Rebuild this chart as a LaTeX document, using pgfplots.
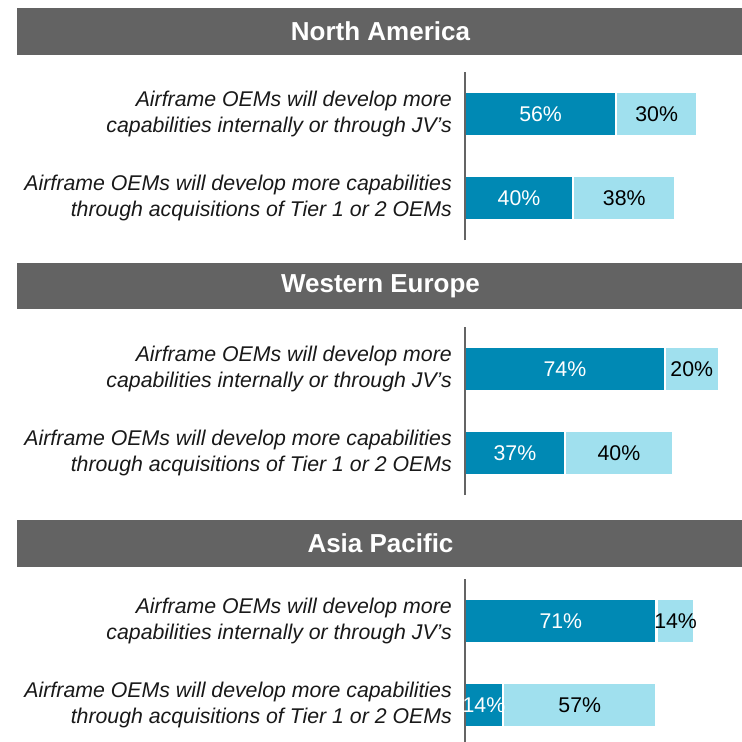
\documentclass[border=0pt]{standalone}
\usepackage{pgfplots}
\pgfplotsset{compat=1.18}
\usepackage{fontspec}
\setmainfont{Liberation Sans}
\definecolor{darkbar}{RGB}{0,137,180}
\definecolor{lightbar}{RGB}{160,224,238}
\definecolor{hdr}{RGB}{99,99,99}
\definecolor{axl}{RGB}{100,100,100}
\pgfplotsset{
  common/.style={
    scale only axis, width=277pt, height=168pt,
    xmin=0, xmax=102.6, ymin=-0.5, ymax=1.5,
  },
  barpanel/.style={
    common,
    axis x line=none, axis y line*=left,
    y axis line style={draw=axl, line width=1.3pt, -},
    xtick=\empty,
    ytick={0,1},
    yticklabels={{Airframe OEMs will develop more capabilities\\through acquisitions of Tier 1 or 2 OEMs},{Airframe OEMs will develop more\\capabilities internally or through JV’s}},
    major tick length=0pt,
    yticklabel style={align=right, font=\itshape\fontsize{21.3}{25.5}\selectfont, inner sep=0pt, xshift=-13pt, text=black!90},
    xbar stacked, bar width=44pt,
    axis on top,
  },
  labelpanel/.style={
    common, hide axis,
  },
  lab/.style={draw=none, mark=none, nodes near coords, point meta=explicit symbolic,
    every node near coord/.append style={anchor=center, font=\fontsize{21.3}{25}\selectfont, text=#1}},
}
\begin{document}
\begin{tikzpicture}
\useasboundingbox (0,0) rectangle (742pt,-742pt);
\clip (0,0) rectangle (742pt,-742pt);
\fill[white] (0,0) rectangle (742pt,-742pt);
% headers
\fill[hdr] (17pt,-8pt) rectangle (742pt,-55pt);
\node[white, font=\bfseries\fontsize{26}{30}\selectfont] at (380.5pt,-31.5pt) {North America};
\fill[hdr] (17pt,-263pt) rectangle (742pt,-309pt);
\node[white, font=\bfseries\fontsize{26}{30}\selectfont] at (380.5pt,-286pt) {Western Europe};
\fill[hdr] (17pt,-520pt) rectangle (742pt,-567pt);
\node[white, font=\bfseries\fontsize{26}{30}\selectfont] at (380.5pt,-543.5pt) {Asia Pacific};

% North America
\begin{axis}[barpanel, at={(465pt,-240pt)}, anchor=south west]
\addplot[fill=darkbar, draw=white, line width=2.4pt] coordinates {(56,1) (40,0)};
\addplot[fill=lightbar, draw=white, line width=2.4pt] coordinates {(30,1) (38,0)};
\end{axis}
\begin{axis}[labelpanel, at={(465pt,-240pt)}, anchor=south west]
\addplot[lab=white] coordinates {(28,1) [56\%] (20,0) [40\%]};
\addplot[lab=black] coordinates {(71,1) [30\%] (59,0) [38\%]};
\end{axis}

% Western Europe
\begin{axis}[barpanel, at={(465pt,-495pt)}, anchor=south west]
\addplot[fill=darkbar, draw=white, line width=2.4pt] coordinates {(74,1) (37,0)};
\addplot[fill=lightbar, draw=white, line width=2.4pt] coordinates {(20,1) (40,0)};
\end{axis}
\begin{axis}[labelpanel, at={(465pt,-495pt)}, anchor=south west]
\addplot[lab=white] coordinates {(37,1) [74\%] (18.5,0) [37\%]};
\addplot[lab=black] coordinates {(84,1) [20\%] (57,0) [40\%]};
\end{axis}

% Asia Pacific
\begin{axis}[barpanel, at={(465pt,-747pt)}, anchor=south west]
\addplot[fill=darkbar, draw=white, line width=2.4pt] coordinates {(71,1) (14,0)};
\addplot[fill=lightbar, draw=white, line width=2.4pt] coordinates {(14,1) (57,0)};
\end{axis}
\begin{axis}[labelpanel, at={(465pt,-747pt)}, anchor=south west]
\addplot[lab=white] coordinates {(35.5,1) [71\%] (7,0) [14\%]};
\addplot[lab=black] coordinates {(78,1) [14\%] (42.5,0) [57\%]};
\end{axis}
\end{tikzpicture}
\end{document}
